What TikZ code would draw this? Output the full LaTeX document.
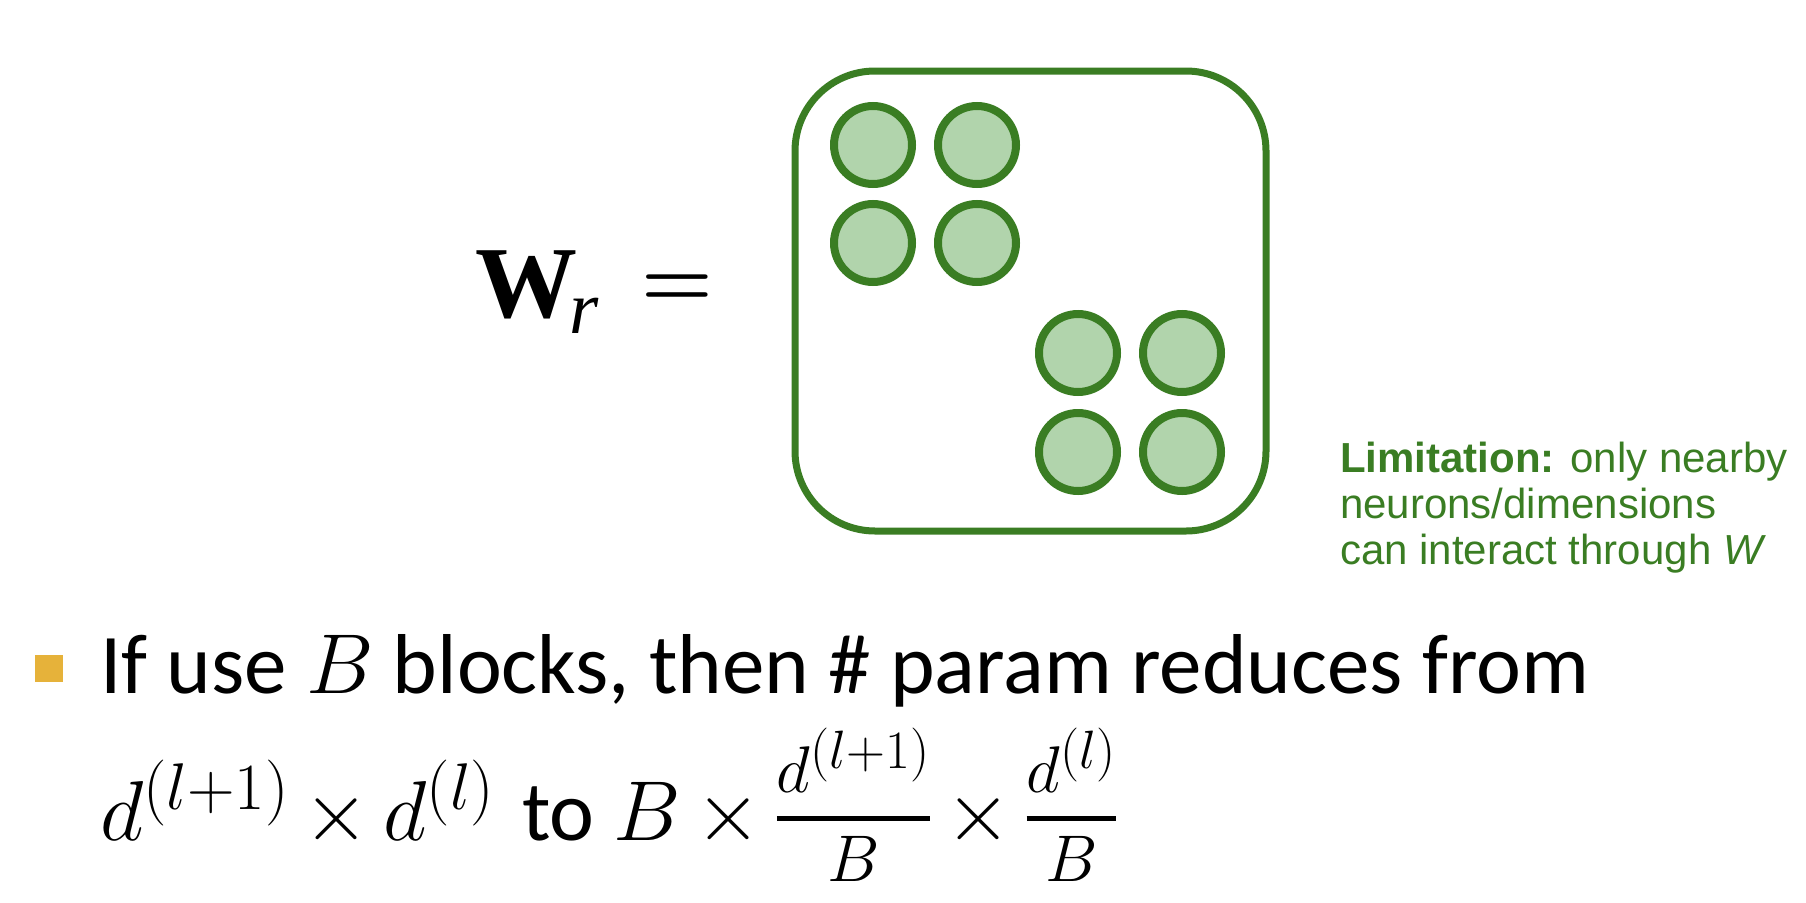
\documentclass[tikz,border=0pt]{standalone}
\usepackage{fix-cm}
\usepackage{amsmath}
\usepackage{fontspec}
\newfontfamily\calibrifont{Carlito}
\newfontfamily\arialfont{Liberation Sans}
\newfontfamily\timesfont{Liberation Serif}
\DeclareMathSizes{85}{85}{66}{54}
\definecolor{blockgreen}{RGB}{58,125,35}
\definecolor{cellgreen}{RGB}{177,212,172}
\definecolor{bulletgold}{RGB}{230,178,58}
\newcommand{\smallfrac}[2]{\genfrac{}{}{5pt}{1}{\raisebox{14pt}{$\scriptstyle #1$}}{\raisebox{-12pt}{$\scriptstyle #2$}}}
\newcommand{\tm}{\mkern3mu{\times}\mkern3mu}
\tikzset{
  cell/.style={circle, draw=blockgreen, fill=cellgreen, line width=8pt, minimum size=78pt, inner sep=0pt},
  bigtext/.style={anchor=base west, inner sep=0pt, font=\calibrifont\fontsize{85}{100}\selectfont},
}
\begin{document}
\begin{tikzpicture}[x=1pt, y=-1pt]
	\useasboundingbox (0,0) rectangle (1806,902);
	% block-diagonal matrix
	\node[draw=blockgreen, line width=7pt, rounded corners=80pt, minimum width=471pt, minimum height=460pt, inner sep=0pt] (wmat) at (1030.5,301) {};
	\node[cell] (c11) at (873,145) {};
	\node[cell] (c12) at (977,145) {};
	\node[cell] (c21) at (873,243) {};
	\node[cell] (c22) at (977,243) {};
	\node[cell] (c33) at (1078,353) {};
	\node[cell] (c34) at (1182,353) {};
	\node[cell] (c43) at (1078,452) {};
	\node[cell] (c44) at (1182,452) {};
	\node[anchor=base west, inner sep=0pt, font=\timesfont\fontsize{102}{110}\selectfont] (wlabel) at (475,317) {\textbf{W}\kern-8pt\raisebox{-16pt}{\fontsize{75}{80}\selectfont\itshape r}};
	\node[anchor=base, inner sep=0pt, font=\bfseries\fontsize{82}{90}\selectfont] (equals) at (677.5,306.5) {=};
	\node[anchor=north west, inner sep=0pt, align=left, text=blockgreen, font=\arialfont\fontsize{42}{46}\selectfont] (limit) at (1340,442) {\textbf{Limitation:} only nearby\\neurons/dimensions\\can interact through \textit{W}};
	% bullet text
	\node[fill=bulletgold, minimum width=28pt, minimum height=27pt, inner sep=0pt] (bullet) at (49,668.5) {};
	\node[bigtext] (ifline) at (100,693) {If use $B$ blocks, then \# param reduces from};
	\node[bigtext] (paramline) at (100,840) {$d^{(l+1)}\tm d^{(l)}$\kern8pt{} to $B\tm\smallfrac{d^{(l+1)}}{B}\tm\smallfrac{d^{(l)}}{B}$};
\end{tikzpicture}
\end{document}
